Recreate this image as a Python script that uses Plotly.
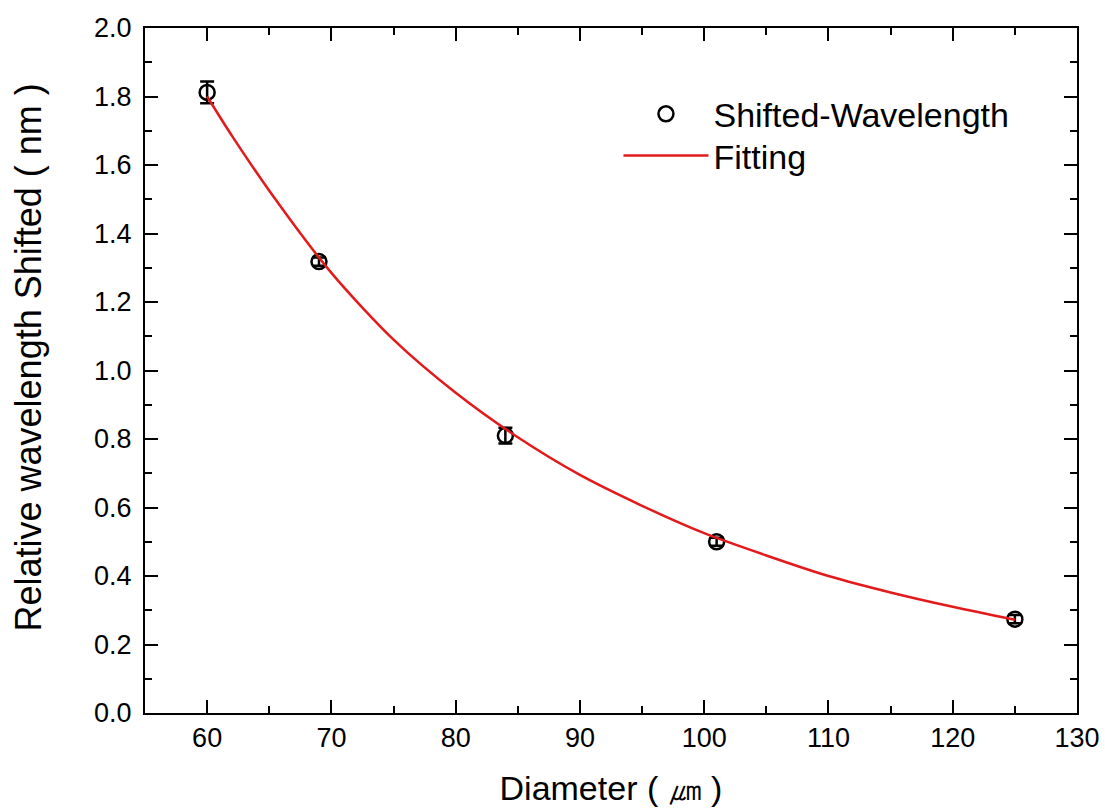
import plotly.graph_objects as go

# Measured data
diameter = [60, 69, 84, 101, 125]
shift = [1.812, 1.318, 0.810, 0.500, 0.274]
shift_err = [0.032, 0.012, 0.023, 0.012, 0.012]

# Fitted curve
fit_x = [60, 62, 65, 70, 75, 80, 85, 90, 95, 100, 105, 110, 115, 120, 125]
fit_y = [1.80, 1.685, 1.525, 1.285, 1.09, 0.935, 0.805, 0.695, 0.605, 0.525, 0.46, 0.40, 0.352, 0.31, 0.272]

FONT = "Arial, Liberation Sans, sans-serif"

fig = go.Figure()
fig.add_trace(go.Scatter(
    x=diameter, y=shift, mode="markers", name="Shifted-Wavelength",
    marker=dict(symbol="circle-open", size=15, color="black", line=dict(width=2.5, color="black")),
    error_y=dict(type="data", array=shift_err, visible=True, color="black", thickness=2.5, width=7),
    legend="legend", showlegend=True,
))
fig.add_trace(go.Scatter(
    x=fit_x, y=fit_y, mode="lines", name="Fitting",
    line=dict(color="#e31a1c", width=2.5, shape="spline", smoothing=0.8),
    legend="legend2", showlegend=True,
))

axis_common = dict(
    showline=True, linecolor="black", linewidth=2, mirror="allticks",
    ticks="inside", ticklen=13, tickwidth=2, tickcolor="black",
    showgrid=False, zeroline=False, automargin=False,
    tickfont=dict(family=FONT, size=27, color="black"),
)

fig.update_xaxes(
    range=[55, 130], tick0=60, dtick=10,
    minor=dict(ticks="inside", ticklen=7, tickwidth=2, tickcolor="black", dtick=5, tick0=55),
    title=dict(text="Diameter ( ㎛ )", font=dict(family=FONT, size=34, color="black"), standoff=24),
    **axis_common,
)
fig.update_yaxes(
    range=[0, 2.0], tick0=0, dtick=0.2, tickformat=".1f",
    minor=dict(ticks="inside", ticklen=7, tickwidth=2, tickcolor="black", dtick=0.1),
    ticklabelstandoff=6,
    **axis_common,
)

fig.add_annotation(
    text="Relative wavelength Shifted ( nm )", textangle=-90,
    xref="paper", yref="paper", x=-0.1255, y=0.519, xanchor="center", yanchor="middle",
    showarrow=False, font=dict(family=FONT, size=36, color="black"),
)

legend_common = dict(
    xanchor="left", yanchor="top",
    font=dict(family=FONT, size=34, color="black"),
    bgcolor="rgba(0,0,0,0)", itemwidth=85, tracegroupgap=0,
)

fig.update_layout(
    width=1105, height=812,
    margin=dict(l=145, r=28, t=28, b=99),
    plot_bgcolor="white", paper_bgcolor="white",
    showlegend=True,
    legend=dict(x=0.508, y=0.9165, **legend_common),
    legend2=dict(x=0.508, y=0.8555, **legend_common),
)

fig.write_html("out.html")
